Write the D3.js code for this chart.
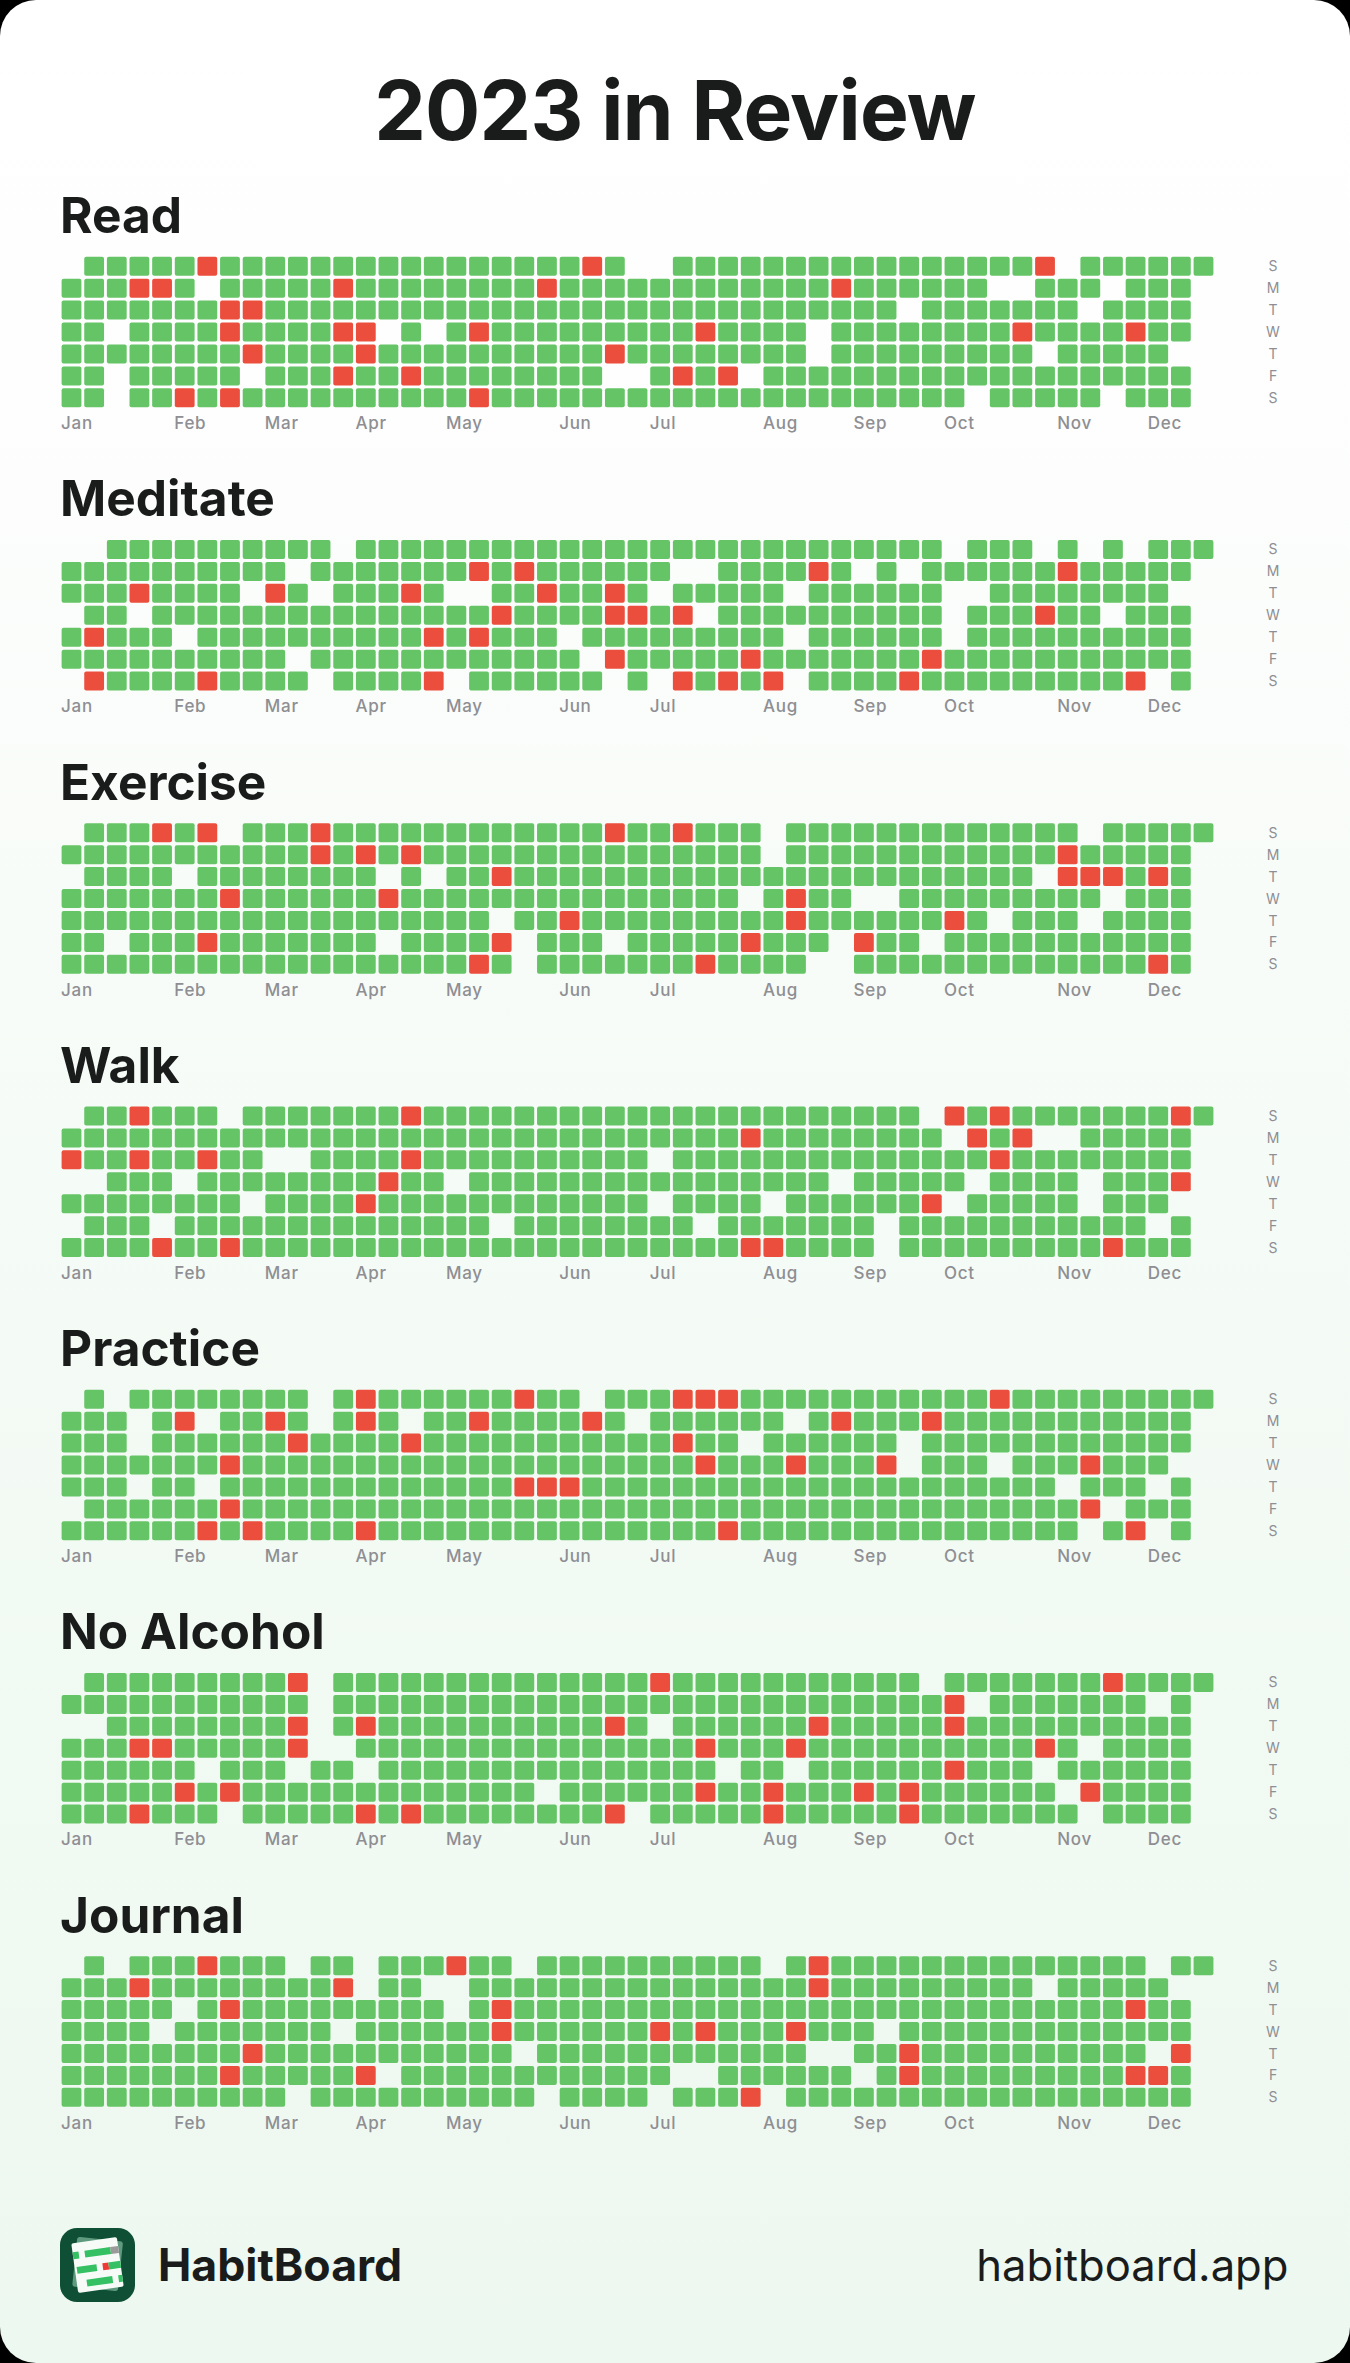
<!DOCTYPE html>
<html lang="en">
<head>
<meta charset="utf-8">
<title>2023 in Review</title>
<script src="https://cdn.jsdelivr.net/npm/d3@7/dist/d3.min.js"></script>
<style>
  html, body { margin: 0; padding: 0; background: #000; }
  svg { display: block; font-family: Inter, "Noto Sans", sans-serif; }
</style>
</head>
<body>
<svg id="board" width="1350" height="2363"></svg>
<script>
// Habit names in display order.
const habits = ["Read", "Meditate", "Exercise", "Walk", "Practice", "No Alcohol", "Journal"];

// Axis labels.
const dayLabels = ["S", "M", "T", "W", "T", "F", "S"];
const monthNames = ["Jan", "Feb", "Mar", "Apr", "May", "Jun", "Jul", "Aug", "Sep", "Oct", "Nov", "Dec"];
const monthStartWeeks = [0, 5, 9, 13, 17, 22, 26, 31, 35, 39, 44, 48];
const weekCount = 51;

// For each habit and weekday: week indices with no entry, and weeks when the habit was missed.
// Every other week counts as done.
const readEmpty = [[0,25,26,44],[6,41,42,46,50],[37,45,50],[2,14,16,33,50],[33,43,49,50],[2,8,24,25,30,50],[2,40,46,50]];
const readMissed = [[6,23,43],[3,4,12,21,34],[7,8],[7,12,13,18,28,42,47],[8,13,24],[12,15,27,29],[5,7,18]];

const meditateEmpty = [[0,1,12,39,43,45,47],[10,27,28,35,37,50],[8,11,17,18,26,32,39,40,49,50],[0,3,28,39,46,50],[5,22,32,39,50],[10,23,50],[0,11,17,24,26,32,48,50]];
const meditateMissed = [[],[18,20,33,44],[3,9,15,21,24],[19,24,25,27,43],[1,16,18],[24,30,38],[1,6,16,27,29,31,37,47]];

const exerciseEmpty = [[0,7,31,45],[31,50],[0,5,14,16,43,50],[30,35,36,46,50],[19,41,45,50],[2,14,20,24,34,38,50],[20,33,34,50]];
const exerciseMissed = [[4,6,11,24,27],[11,13,15,44],[19,44,45,46,48],[7,14,32],[22,32,39],[6,19,30,35],[18,28,48]];

const walkEmpty = [[0,7,38],[39,43,44,50],[9,10,26,50],[0,1,5,17,34,40,45,50],[8,26,31,39,45,49,50],[0,4,19,28,36,48,50],[36,50]];
const walkMissed = [[3,15,39,41,49],[30,40,42],[0,3,6,15,41],[14,49],[13,38],[],[4,7,30,31,46]];

const practiceEmpty = [[0,2,11,23],[3,6,11,15,25,32,50],[3,30,37,50],[37,41,49,50],[3,6,44,48,50],[0,46,50],[45,48,50]];
const practiceMissed = [[13,20,27,28,29,41],[5,9,13,18,23,34,38],[10,15,27],[7,28,32,36,45],[20,21,22],[7,45],[6,8,13,29,47]];

const noAlcoholEmpty = [[0,11,38],[11,40,48,50],[0,1,11,26,50],[11,12,45,50],[6,10,13,29,32,43,50],[21,44,50],[7,25,45,50]];
const noAlcoholMissed = [[10,26,46],[39],[10,13,24,33,39],[3,4,10,28,32,43],[39],[5,7,28,31,35,37,45],[3,13,15,24,31,37]];

const journalEmpty = [[0,2,10,13,20,31,48],[13,16,17,43,49,50],[5,17,50],[4,12,36,50],[20,33,34,48,50],[14,27,28,35,50],[10,21,26,31,50]];
const journalMissed = [[6,17,33],[3,12,33],[7,19,47],[19,26,28,32],[8,37,49],[7,13,37,47,48],[30]];

const emptyByHabit = [readEmpty, meditateEmpty, exerciseEmpty, walkEmpty, practiceEmpty, noAlcoholEmpty, journalEmpty];
const missedByHabit = [readMissed, meditateMissed, exerciseMissed, walkMissed, practiceMissed, noAlcoholMissed, journalMissed];

const colors = { done: "#65c466", missed: "#eb4e3d", ink: "#1a1c1b", axis: "#8e8e93" };

const width = 1350, height = 2363;
const svg = d3.select("#board");

// Card background with rounded corners and a soft white-to-mint wash.
const wash = svg.append("defs").append("linearGradient")
  .attr("id", "wash").attr("x1", 0).attr("y1", 0).attr("x2", 0).attr("y2", 1);
wash.append("stop").attr("offset", "0%").attr("stop-color", "#ffffff");
wash.append("stop").attr("offset", "12%").attr("stop-color", "#fefefe");
wash.append("stop").attr("offset", "50%").attr("stop-color", "#f5fbf6");
wash.append("stop").attr("offset", "100%").attr("stop-color", "#edf8f0");
svg.append("rect").attr("width", width).attr("height", height).attr("rx", 36).attr("fill", "url(#wash)");

svg.append("text").attr("x", 675).attr("y", 140).attr("text-anchor", "middle")
  .attr("font-size", 82).attr("font-weight", 700).attr("letter-spacing", -0.8).attr("fill", colors.ink)
  .text("2023 in Review");

// Shared scales for every habit grid.
const pitchX = 22.64, pitchY = 21.94, gapX = 2.84, gapY = 2.94;
const x = d3.scaleBand().domain(d3.range(weekCount))
  .range([61.6, 61.6 + weekCount * pitchX - gapX]).paddingInner(gapX / pitchX);
const y = d3.scaleBand().domain(d3.range(dayLabels.length))
  .range([0, dayLabels.length * pitchY - gapY]).paddingInner(gapY / pitchY);
const panelY = d3.scaleLinear().domain([0, habits.length - 1]).range([256.7, 256.7 + 283.25 * (habits.length - 1)]);

const monthAxis = d3.axisBottom(x).tickValues(monthStartWeeks)
  .tickSize(0).tickFormat(w => monthNames[monthStartWeeks.indexOf(w)]);
const dayAxis = d3.axisRight(y).tickSize(0).tickFormat(d => dayLabels[d]);

habits.forEach((habit, h) => {
  const top = panelY(h);
  const panel = svg.append("g").attr("class", "habit");

  panel.append("text").attr("x", 60).attr("y", top - 23.5)
    .attr("font-size", 49.6).attr("font-weight", 700).attr("fill", colors.ink).text(habit);

  const cells = d3.cross(d3.range(dayLabels.length), d3.range(weekCount))
    .filter(([d, w]) => !emptyByHabit[h][d].includes(w))
    .map(([d, w]) => ({ d, w, missed: missedByHabit[h][d].includes(w) }));

  panel.append("g").attr("transform", `translate(0,${top})`)
    .selectAll("rect").data(cells).join("rect")
    .attr("x", c => x(c.w)).attr("y", c => y(c.d))
    .attr("width", x.bandwidth()).attr("height", y.bandwidth())
    .attr("rx", 2)
    .attr("fill", c => c.missed ? colors.missed : colors.done);

  // Month labels sit flush with the left edge of their starting week.
  const months = panel.append("g").attr("transform", `translate(0,${top + 172.5})`).call(monthAxis);
  months.select(".domain").remove();
  months.selectAll("text")
    .attr("x", -x.bandwidth() / 2 - 0.5).attr("y", 0).attr("dy", 0)
    .attr("text-anchor", "start").attr("font-family", "Inter")
    .attr("font-size", 17).attr("font-weight", 500).attr("letter-spacing", 0.7)
    .attr("fill", colors.axis);

  const days = panel.append("g").attr("transform", `translate(1273,${top})`).call(dayAxis);
  days.select(".domain").remove();
  days.selectAll("text")
    .attr("x", 0).attr("dy", "0.36em").attr("text-anchor", "middle").attr("font-family", "Inter")
    .attr("font-size", 14).attr("font-weight", 400).attr("fill", colors.axis);
});

// Footer: app icon, name and address.
const logo = svg.append("g").attr("transform", "translate(97.5,2265)");
logo.append("rect").attr("x", -37.5).attr("y", -37).attr("width", 75).attr("height", 74).attr("rx", 17).attr("fill", "#0e4f35");
logo.append("rect").attr("x", -23).attr("y", -26).attr("width", 46).attr("height", 50)
  .attr("rx", 3).attr("fill", "#5f9a7e").attr("transform", "rotate(6)");
const sheet = logo.append("g").attr("transform", "rotate(-8)");
sheet.append("rect").attr("x", -23).attr("y", -25).attr("width", 46).attr("height", 50).attr("rx", 2).attr("fill", "#f7fbf8");
const logoBars = [
  [-23, -16, 6, "#34c063"], [-11, -16, 26, "#34c063"], [15, -16, 8, "#9a9a9a"],
  [-21, -1, 20, "#34c063"], [5, -1, 6, "#ef3b36"], [11, -1, 12, "#34c063"],
  [-13, 13, 26, "#34c063"], [19, 13, 4, "#34c063"]
];
sheet.selectAll("rect.bar").data(logoBars).join("rect").attr("class", "bar")
  .attr("x", b => b[0]).attr("y", b => b[1]).attr("width", b => b[2]).attr("height", 7).attr("fill", b => b[3]);

svg.append("text").attr("x", 158).attr("y", 2280.5)
  .attr("font-size", 44.6).attr("font-weight", 700).attr("fill", colors.ink).text("HabitBoard");
svg.append("text").attr("x", 1288.5).attr("y", 2280.5).attr("text-anchor", "end")
  .attr("font-size", 43.6).attr("font-weight", 400).attr("fill", colors.ink).text("habitboard.app");
</script>
</body>
</html>
